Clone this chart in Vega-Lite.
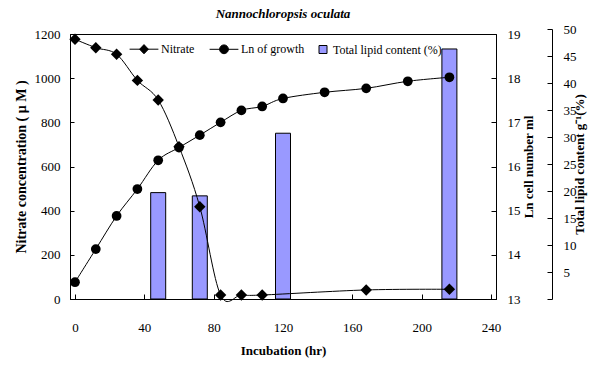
{
  "$schema": "https://vega.github.io/schema/vega-lite/v6.json",
  "width": 426,
  "height": 265,
  "autosize": "none",
  "padding": {"left": 70, "top": 34, "right": 100, "bottom": 69},
  "background": "white",
  "config": {
    "font": "Liberation Serif",
    "view": {"stroke": "black", "strokeWidth": 1},
    "axis": {
      "labelFont": "Liberation Serif",
      "titleFont": "Liberation Serif",
      "labelFontSize": 13,
      "titleFontSize": 14,
      "titleFontWeight": "bold",
      "labelColor": "black",
      "titleColor": "black",
      "domainColor": "black",
      "tickColor": "black",
      "grid": false,
      "labelFlush": false,
      "labelOverlap": false,
      "format": "d"
    }
  },
  "title": {
    "text": "Nannochloropsis oculata",
    "font": "Liberation Serif",
    "fontSize": 13,
    "fontStyle": "italic",
    "fontWeight": "bold",
    "color": "black",
    "anchor": "middle",
    "offset": 2
  },
  "datasets": {
    "lipid": [
      {"series": "Total lipid content (%)", "time": 48, "value": 19.7},
      {"series": "Total lipid content (%)", "time": 72, "value": 19.1},
      {"series": "Total lipid content (%)", "time": 120, "value": 30.7},
      {"series": "Total lipid content (%)", "time": 216, "value": 46.3}
    ],
    "nitrate": [
      {"series": "Nitrate", "time": 0, "value": 1176},
      {"series": "Nitrate", "time": 12, "value": 1138},
      {"series": "Nitrate", "time": 24, "value": 1108},
      {"series": "Nitrate", "time": 36, "value": 990},
      {"series": "Nitrate", "time": 48, "value": 901},
      {"series": "Nitrate", "time": 60, "value": 690},
      {"series": "Nitrate", "time": 72, "value": 418},
      {"series": "Nitrate", "time": 84, "value": 18},
      {"series": "Nitrate", "time": 96, "value": 18},
      {"series": "Nitrate", "time": 108, "value": 18},
      {"series": "Nitrate", "time": 168, "value": 41},
      {"series": "Nitrate", "time": 216, "value": 44}
    ],
    "growth": [
      {"series": "Ln of growth", "time": 0, "value": 13.38},
      {"series": "Ln of growth", "time": 12, "value": 14.13},
      {"series": "Ln of growth", "time": 24, "value": 14.88},
      {"series": "Ln of growth", "time": 36, "value": 15.49},
      {"series": "Ln of growth", "time": 48, "value": 16.14},
      {"series": "Ln of growth", "time": 60, "value": 16.43},
      {"series": "Ln of growth", "time": 72, "value": 16.71},
      {"series": "Ln of growth", "time": 84, "value": 17.0},
      {"series": "Ln of growth", "time": 96, "value": 17.27},
      {"series": "Ln of growth", "time": 108, "value": 17.36},
      {"series": "Ln of growth", "time": 120, "value": 17.54},
      {"series": "Ln of growth", "time": 144, "value": 17.68},
      {"series": "Ln of growth", "time": 168, "value": 17.77},
      {"series": "Ln of growth", "time": 192, "value": 17.93},
      {"series": "Ln of growth", "time": 216, "value": 18.02}
    ]
  },
  "layer": [
    {
      "data": {"name": "lipid"},
      "mark": {"type": "bar", "orient": "vertical", "size": 15, "stroke": "black", "strokeWidth": 1},
      "encoding": {
        "x": {
          "field": "time",
          "type": "quantitative",
          "scale": {"domain": [0, 240], "nice": false, "zero": false},
          "axis": {
            "values": [0, 20, 40, 60, 80, 100, 120, 140, 160, 180, 200, 220, 240],
            "tickSize": -5,
            "labelPadding": 27,
            "title": "Incubation (hr)",
            "titleFontSize": 13,
            "titlePadding": 10
          }
        },
        "y": {
          "field": "value",
          "type": "quantitative",
          "scale": {"domain": [0, 50], "range": [265, -5], "nice": false},
          "axis": {
            "orient": "right",
            "offset": 56,
            "values": [0, 5, 10, 15, 20, 25, 30, 35, 40, 45, 50],
            "labelExpr": "datum.value == 0 ? '' : datum.label",
            "tickSize": -5,
            "labelPadding": 16,
            "title": "Total lipid content g⁻¹(%)",
            "titleFontSize": 13,
            "titleAngle": 270,
            "titlePadding": 10
          }
        },
        "fill": {
          "field": "series",
          "type": "nominal",
          "scale": {
            "domain": ["Nitrate", "Ln of growth", "Total lipid content (%)"],
            "range": ["black", "black", "#9999ff"]
          },
          "legend": {
            "title": null,
            "orient": "none",
            "direction": "horizontal",
            "legendX": 68,
            "legendY": 9,
            "labelFont": "Liberation Serif",
            "labelFontSize": 12,
            "labelColor": "black",
            "symbolSize": 64,
            "symbolStrokeColor": "black",
            "symbolStrokeWidth": 1,
            "labelOffset": 11,
            "columnPadding": 12,
            "encode": {
              "symbols": {
                "update": {
                  "shape": {"signal": "datum.label == 'Nitrate' ? 'M-3.6,0H3.6M0,-1.15L1.1,0L0,1.15L-1.1,0Z' : datum.label == 'Ln of growth' ? 'M-3.6,0H3.6M1.1,0A1.1,1.1,0,1,1,-1.1,0A1.1,1.1,0,1,1,1.1,0Z' : 'square'"},
                  "stroke": {"value": "black"},
                  "strokeWidth": {"value": 1}
                }
              },
              "labels": {
                "update": {
                  "dx": {"signal": "datum.label == 'Total lipid content (%)' ? -7 : 0"}
                }
              }
            }
          }
        }
      }
    },
    {
      "data": {"name": "nitrate"},
      "encoding": {
        "x": {"field": "time", "type": "quantitative"},
        "y": {
          "field": "value",
          "type": "quantitative",
          "scale": {"domain": [0, 1200], "nice": false},
          "axis": {
            "orient": "left",
            "values": [0, 200, 400, 600, 800, 1000, 1200],
            "tickSize": -4,
            "labelPadding": 14,
            "title": "Nitrate concentration ( μ M )",
            "titleFontSize": 14,
            "titlePadding": 6
          }
        }
      },
      "layer": [
        {"mark": {"type": "line", "interpolate": "cardinal", "color": "black", "strokeWidth": 1}},
        {"mark": {"type": "point", "shape": "diamond", "filled": true, "size": 130, "color": "black", "opacity": 1}}
      ]
    },
    {
      "data": {"name": "growth"},
      "encoding": {
        "x": {"field": "time", "type": "quantitative"},
        "y": {
          "field": "value",
          "type": "quantitative",
          "scale": {"domain": [13, 19], "nice": false, "zero": false},
          "axis": {
            "orient": "right",
            "values": [13, 14, 15, 16, 17, 18, 19],
            "tickSize": -5,
            "labelPadding": 16,
            "title": "Ln cell number ml",
            "titleFontSize": 13,
            "titleAngle": 270,
            "titlePadding": 15
          }
        }
      },
      "layer": [
        {"mark": {"type": "line", "interpolate": "cardinal", "color": "black", "strokeWidth": 1}},
        {"mark": {"type": "point", "shape": "circle", "filled": true, "size": 95, "color": "black", "opacity": 1}}
      ]
    }
  ],
  "resolve": {"scale": {"y": "independent"}}
}
